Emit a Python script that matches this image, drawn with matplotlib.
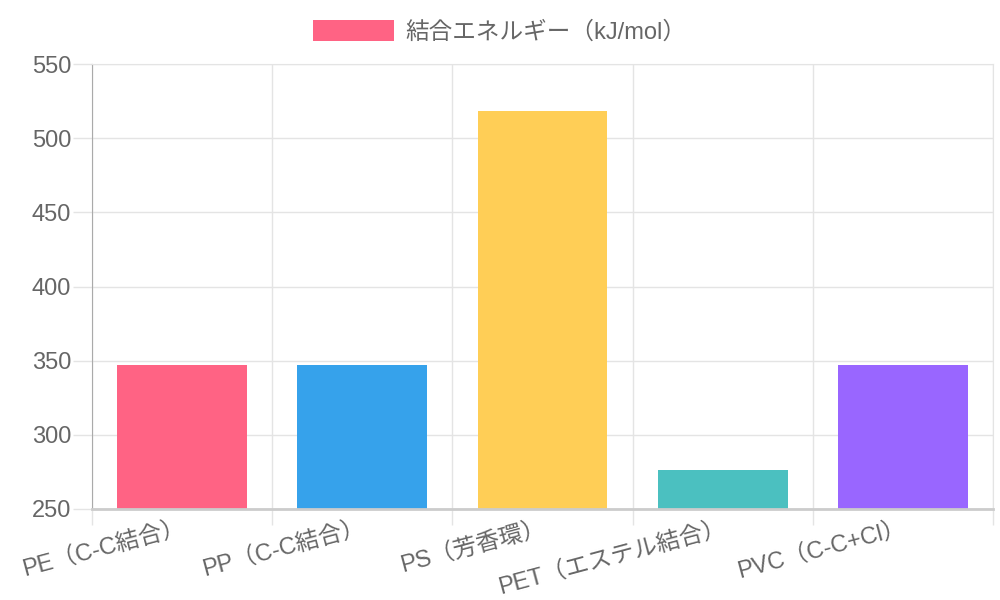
import matplotlib
matplotlib.use("Agg")
import matplotlib.pyplot as plt
from matplotlib.patches import Patch

plt.rcParams['font.family'] = ['Liberation Sans', 'Noto Sans CJK JP', 'DejaVu Sans']

categories = ['PE（C-C結合）', 'PP（C-C結合）', 'PS（芳香環）', 'PET（エステル結合）', 'PVC（C-C+Cl）']
values = [347, 347, 518, 276, 347]
colors = ['#FF6384', '#36A2EB', '#FFCE56', '#4BC0C0', '#9966FF']
legend_label = '結合エネルギー（kJ/mol）'
yticks = [250, 300, 350, 400, 450, 500, 550]

text_color = '#666666'
grid_color = '#e4e4e4'

fig = plt.figure(figsize=(10, 6), dpi=100)
ax = fig.add_axes([0.092, 0.1517, 0.901, 0.7416])

x = list(range(len(categories)))
ax.bar(x, values, width=0.72, color=colors, zorder=2)

ax.set_xlim(-0.5, len(categories) - 0.5)
ax.set_ylim(250, 550)
ax.set_yticks(yticks)
ax.set_yticklabels([str(v) for v in yticks], fontsize=17, color=text_color)

ax.set_xticks(x)
ax.set_xticklabels(categories, fontsize=17, color=text_color, rotation=15,
                   ha='right', rotation_mode='anchor')
ax.tick_params(axis='x', length=0, pad=5)
ax.set_xticks([i - 0.5 for i in range(len(categories) + 1)], minor=True)
ax.tick_params(axis='x', which='minor', length=11.5, color=grid_color, width=1)
ax.tick_params(axis='y', length=14, color=grid_color, width=1, pad=1)

ax.grid(True, which='minor', axis='x', color=grid_color, linewidth=1, zorder=0)
ax.grid(True, which='major', axis='y', color=grid_color, linewidth=1, zorder=0)

for side in ['top', 'right']:
    ax.spines[side].set_color(grid_color)
ax.spines['left'].set_color('#aaaaaa')
ax.spines['bottom'].set_color('#cccccc')
ax.spines['bottom'].set_linewidth(2)

handle = Patch(facecolor=colors[0], edgecolor='none')
fig.legend([handle], [legend_label], loc='center', bbox_to_anchor=(0.5, 0.947),
           frameon=False, fontsize=17, handlelength=3.4, handleheight=1.0,
           handletextpad=0.5, labelcolor=text_color)

fig.savefig('out.png', dpi=100)
